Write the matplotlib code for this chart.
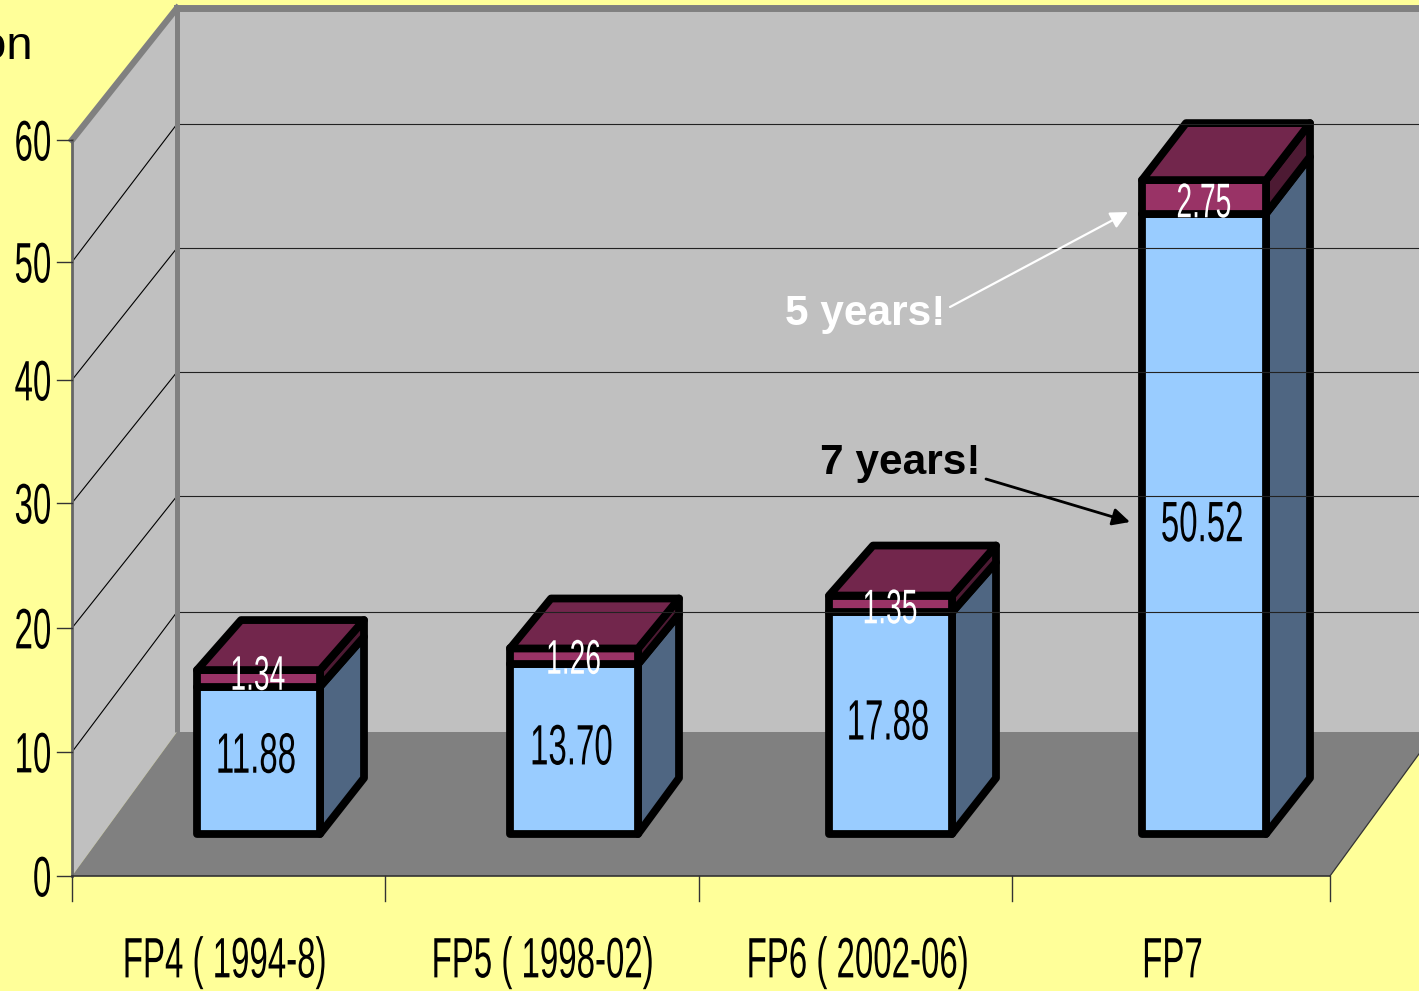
#!/usr/bin/env python3
import numpy as np
import matplotlib
matplotlib.use('Agg')
import matplotlib.pyplot as plt
from matplotlib.colors import to_rgba
from matplotlib.patches import Polygon
from matplotlib.text import Text
from matplotlib.textpath import TextPath
from matplotlib.transforms import Affine2D, Bbox

# data
categories = ['FP4 ( 1994-8)', 'FP5 ( 1998-02)', 'FP6 ( 2002-06)', 'FP7']
lower_values = [11.88, 13.70, 17.88, 50.52]
upper_values = [1.34, 1.26, 1.35, 2.75]
y_ticks = [0, 10, 20, 30, 40, 50, 60]

# layout, in pixels of the picture
front_axis_px = [876, 752, 628, 503, 380, 262, 140]
back_axis_px = [732, 612, 496, 372, 248, 124, 8]
slot_edges = [72, 385, 699, 1012, 1330]
bar_left = [197, 510, 829, 1142]
bar_right = [320, 638, 952, 1266]
label_x = [225, 543, 858, 1173]
top_dx = [44, 41, 44, 44]
top_dy = [-50, -50, -50, -57]
lower_label_shift = [-8, -5, -4, -3]
upper_label_shift = [-6, 0, 2, 3]
base_dy = -56
bar_base_shift = 42

YELLOW = '#FFFF99'
WALL = '#C0C0C0'
FLOOR = '#808080'
SANS = ['Liberation Sans']


class NarrowText(Text):
    '''Text squeezed sideways, no condensed Helvetica is installed.'''

    def __init__(self, x, y, s, squeeze=0.58, **kwargs):
        super().__init__(x, y, s, **kwargs)
        self.squeeze = squeeze

    def _placed(self):
        path = TextPath((0, 0), self.get_text(), prop=self.get_fontproperties())
        k = self.get_figure().dpi / 72
        box = path.get_extents()
        px, py = self.get_transform().transform(self.get_position())
        anchor = {'left': box.x0, 'center': (box.x0 + box.x1) / 2, 'right': box.x1}[self.get_ha()]
        dx = -anchor * self.squeeze * k
        dy = -0.358 * self.get_fontsize() * k
        return path, Affine2D().scale(self.squeeze * k, k).translate(px + dx, py + dy)

    def draw(self, renderer):
        path, place = self._placed()
        gc = renderer.new_gc()
        gc.set_linewidth(0)
        renderer.draw_path(gc, path, place, rgbFace=to_rgba(self.get_color()))
        gc.restore()

    def get_window_extent(self, renderer=None, dpi=None):
        path, place = self._placed()
        return Bbox(path.get_extents(place).get_points())


def narrow(ax, x, y, s, size=41, color='black', ha='center'):
    ax.add_artist(NarrowText(x, y, s, fontsize=size, color=color, ha=ha, family=SANS))


def front_y(v):
    return np.interp(v, y_ticks, front_axis_px)


def bar_y(v):
    return front_y(v) - bar_base_shift


def draw_frame(ax):
    ax.add_patch(Polygon([(177, 8), (1425, 8), (1425, 732), (177, 732)], fc=WALL, ec='none'))
    ax.add_patch(Polygon([(72, 140), (177, 8), (177, 732), (72, 876)], fc=WALL, ec='none'))
    ax.add_patch(Polygon([(72, 876), (1330, 876), (1435, 732), (177, 732)], fc=FLOOR, ec='none'))
    ax.plot([1330, 1435], [876, 732], color='#333333', lw=0.9)

    for v in y_ticks[1:-1]:
        yf = front_y(v)
        yb = np.interp(v, y_ticks, back_axis_px)
        ax.plot([72, 177], [yf, yb], color='black', lw=0.8)
        ax.plot([177, 1425], [yb, yb], color='#222222', lw=0.8)

    ax.plot([177, 177], [8, 732], color=FLOOR, lw=3.6, solid_capstyle='butt')
    ax.plot([72, 177], [140, 8], color=FLOOR, lw=4.5, solid_capstyle='projecting')
    ax.plot([177, 1425], [8, 8], color=FLOOR, lw=5)
    ax.plot([72, 72], [140, 876], color='#666666', lw=2)
    ax.plot([72, 1330], [876, 876], color='#333333', lw=1.2)

    for v in y_ticks:
        ax.plot([57, 72], [front_y(v)] * 2, color='#333333', lw=1)
        narrow(ax, 50, front_y(v), str(v), ha='right')
    for x in slot_edges:
        ax.plot([x, x], [876, 901], color='#333333', lw=1)
    for x, name in zip(label_x, categories):
        narrow(ax, x, 957, name)


def draw_bars(ax):
    outline = dict(ec='black', lw=5.6, joinstyle='round')
    for i in range(len(categories)):
        x0, x1 = bar_left[i], bar_right[i]
        dx, dy = top_dx[i], top_dy[i]
        low, up = lower_values[i], upper_values[i]
        base, mid, peak = bar_y(0), bar_y(low), bar_y(low + up)

        ax.add_patch(Polygon([(x1, base), (x1 + dx, base + base_dy),
                              (x1 + dx, mid + dy), (x1, mid)], fc='#4F6682', **outline))
        ax.add_patch(Polygon([(x0, base), (x1, base), (x1, mid), (x0, mid)],
                             fc='#99CCFF', **outline))
        ax.add_patch(Polygon([(x1, mid), (x1 + dx, mid + dy),
                              (x1 + dx, peak + dy), (x1, peak)], fc='#4D1A33', **outline))
        ax.add_patch(Polygon([(x0, mid), (x1, mid), (x1, peak), (x0, peak)],
                             fc='#993366', **outline))
        ax.add_patch(Polygon([(x0, peak), (x1, peak), (x1 + dx, peak + dy),
                              (x0 + dx, peak + dy)], fc='#72264C', **outline))

        xc = (x0 + x1) / 2
        narrow(ax, xc - 2, (base + mid) / 2 + lower_label_shift[i], f'{low:.2f}')
        narrow(ax, xc, (mid + peak) / 2 + upper_label_shift[i], f'{up:.2f}', size=35, color='white')


def draw_notes(ax):
    ax.text(33, 47, 'on', ha='right', va='center', fontsize=34, family=SANS, color='black')
    ax.text(865, 314, '5 years!', ha='center', va='center', fontsize=30.5,
            fontweight='bold', family=SANS, color='white')
    ax.text(900, 463, '7 years!', ha='center', va='center', fontsize=30.5,
            fontweight='bold', family=SANS, color='black')
    ax.annotate('', xy=(1128, 212), xytext=(950, 307),
                arrowprops=dict(arrowstyle='-|>', color='white', lw=1.6, mutation_scale=26,
                                shrinkA=0, shrinkB=0))
    ax.annotate('', xy=(1130, 522), xytext=(986, 479),
                arrowprops=dict(arrowstyle='-|>', color='black', lw=2, mutation_scale=26,
                                shrinkA=0, shrinkB=0))


fig = plt.figure(figsize=(14.19, 9.91), dpi=100, facecolor=YELLOW)
ax = fig.add_axes([0, 0, 1, 1])
ax.set_xlim(0, 1419)
ax.set_ylim(991, 0)
ax.axis('off')

draw_frame(ax)
draw_bars(ax)
draw_notes(ax)

fig.savefig('out.png', dpi=100, facecolor=YELLOW)
